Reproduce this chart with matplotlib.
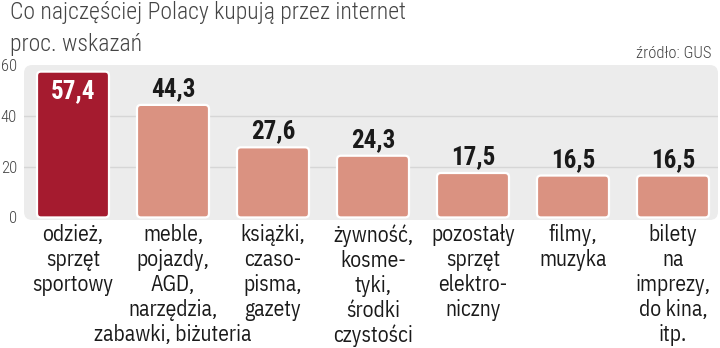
import matplotlib
matplotlib.use("Agg")
import matplotlib.pyplot as plt
from matplotlib.patches import FancyBboxPatch

FONT = "Roboto Condensed"
LABEL_FONT = "IBM Plex Sans Condensed"
plt.rcParams['font.family'] = [FONT, 'DejaVu Sans']

categories = ["odzież,\nsprzęt\nsportowy",
              "meble,\npojazdy,\nAGD,\nnarzędzia,\nzabawki, biżuteria",
              "książki,\nczaso-\npisma,\ngazety",
              "żywność,\nkosme-\ntyki,\nśrodki\nczystości",
              "pozostały\nsprzęt\nelektro-\nniczny",
              "filmy,\nmuzyka",
              "bilety\nna\nimprezy,\ndo kina,\nitp."]
values = [57.4, 44.3, 27.6, 24.3, 17.5, 16.5, 16.5]
value_labels = ["57,4", "44,3", "27,6", "24,3", "17,5", "16,5", "16,5"]
yticks = [0, 20, 40, 60]

fig = plt.figure(figsize=(7.2, 3.48), dpi=100)
ax = fig.add_axes([24/720, 128/348, 694/720, 155/348])
ax.set_facecolor("none")
ax.set_xlim(-0.49, 6.45)
ax.set_ylim(-1, 60)

bg = FancyBboxPatch((0, 0), 1, 1, boxstyle="round,pad=0,rounding_size=0.012",
                    transform=ax.transAxes, facecolor="#ececec", edgecolor="none",
                    mutation_aspect=694/155, zorder=0)
ax.add_patch(bg)
for t in yticks[1:3]:
    ax.axhline(t, color="#d6d6d6", lw=1, zorder=1)

colors = ["#a51b2f"] + ["#da9281"] * 6
bars = ax.bar(range(len(values)), values, width=0.72, color=colors)
ppu_x = 694 / 6.94
ppu_y = 155 / 61
for b, c in zip(bars, colors):
    x, y, w, h = b.get_x(), b.get_y(), b.get_width(), b.get_height()
    b.set_visible(False)
    r = 4 / ppu_x
    p = FancyBboxPatch((x, y), w, h, boxstyle=f"round,pad=0,rounding_size={r}",
                       mutation_aspect=ppu_x/ppu_y, facecolor=c, edgecolor="white",
                       lw=1.6, zorder=3)
    ax.add_patch(p)

for i, (v, lab) in enumerate(zip(values, value_labels)):
    if i == 0:
        ax.text(i, v - 2.8, lab, ha="center", va="top", color="white",
                fontsize=18, fontweight="bold", zorder=4)
    else:
        ax.text(i, v + 1.5, lab, ha="center", va="bottom", color="#1a1a1a",
                fontsize=18, fontweight="bold", zorder=4)

ax.set_xticks(range(len(values)))
ax.set_xticklabels(categories, fontsize=15.5, color="#1a1a1a", linespacing=1.17,
                   va="top", family=[LABEL_FONT, "DejaVu Sans"])
ax.tick_params(axis="x", length=0, pad=3)
ax.set_yticks(yticks)
ax.set_yticklabels([str(t) for t in yticks], fontsize=12, color="#444444",
                   fontweight="light")
ax.tick_params(axis="y", length=0, pad=5)
for s in ax.spines.values():
    s.set_visible(False)

fig.text(10/720, 1 - 13/348, "Co najczęściej Polacy kupują przez internet",
         fontsize=17, color="#444444", va="center", ha="left", fontweight="light")
fig.text(10/720, 1 - 44/348, "proc. wskazań",
         fontsize=17, color="#444444", va="center", ha="left", fontweight="light")
fig.text(712/720, 1 - 53/348, "źródło: GUS",
         fontsize=12, color="#444444", va="center", ha="right", fontweight="light")

fig.savefig("out.png", dpi=100)
